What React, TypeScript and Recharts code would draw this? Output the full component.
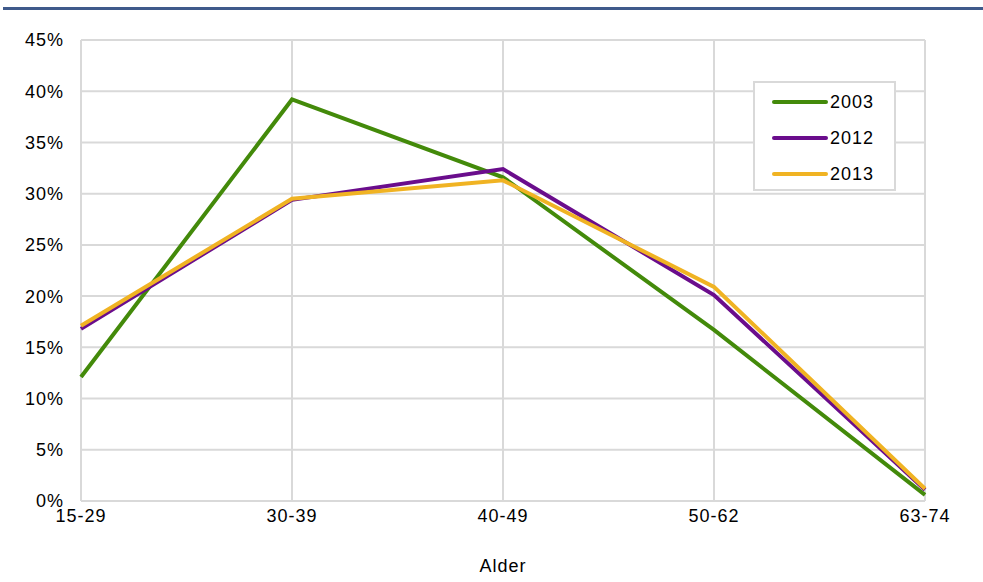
import React from 'react'
import { LineChart, Line, XAxis, YAxis, CartesianGrid } from 'recharts'

const ageGroups = ['15-29', '30-39', '40-49', '50-62', '63-74']
const share2003 = [12.1, 39.2, 31.6, 16.7, 0.6]
const share2012 = [16.8, 29.4, 32.4, 20.1, 1.1]
const share2013 = [17.1, 29.5, 31.3, 20.9, 1.2]
const yTicks = [0, 5, 10, 15, 20, 25, 30, 35, 40, 45]

const series = [
  { key: 'y2003', name: '2003', color: '#438A0A' },
  { key: 'y2012', name: '2012', color: '#6A0D8C' },
  { key: 'y2013', name: '2013', color: '#F0B323' },
]

const data = ageGroups.map((name, i) => ({
  name,
  y2003: share2003[i],
  y2012: share2012[i],
  y2013: share2013[i],
}))

const FONT = '"Liberation Sans", Arial, sans-serif'
const GRID = '#d9d9d9'
const tickStyle = { fontSize: 18, fill: '#000', fontFamily: FONT, letterSpacing: 1 }

// legend drawn as a plain overlay so it does not shrink the plot area
const LegendBox = () => (
  <div
    style={{
      position: 'absolute',
      left: 753,
      top: 81,
      width: 143,
      height: 110,
      border: `2px solid ${GRID}`,
      background: '#fff',
      boxSizing: 'border-box',
      paddingTop: 1,
      fontFamily: FONT,
      fontSize: 18,
      letterSpacing: 1,
      color: '#000',
    }}
  >
    {series.map((s) => (
      <div key={s.key} style={{ display: 'flex', alignItems: 'center', height: 36, paddingLeft: 17 }}>
        <div style={{ width: 56, height: 4, borderRadius: 2, background: s.color, marginRight: 2 }} />
        <span>{s.name}</span>
      </div>
    ))}
  </div>
)

export default function App() {
  return (
    <div style={{ position: 'absolute', left: 0, top: 0, width: 983, height: 582, background: '#fff' }}>
      <div style={{ position: 'absolute', left: 3, top: 7, width: 980, height: 3, background: '#3F5A8B' }} />
      <LineChart
        width={983}
        height={582}
        data={data}
        margin={{ top: 40, right: 58, left: 21, bottom: 6 }}
      >
        <CartesianGrid stroke={GRID} strokeWidth={2} vertical horizontal />
        <XAxis
          dataKey="name"
          axisLine={false}
          tickLine={false}
          height={75}
          interval={0}
          tick={tickStyle}
          label={{ value: 'Alder', position: 'insideBottom', offset: 4, ...tickStyle }}
        />
        <YAxis
          width={60}
          domain={[0, 45]}
          ticks={yTicks}
          axisLine={false}
          tickLine={false}
          tickMargin={11}
          interval={0}
          tickFormatter={(v) => `${v}%`}
          tick={tickStyle}
        />
        {series.map((s) => (
          <Line
            key={s.key}
            type="linear"
            dataKey={s.key}
            name={s.name}
            stroke={s.color}
            strokeWidth={4}
            dot={false}
            activeDot={false}
            isAnimationActive={false}
          />
        ))}
      </LineChart>
      <LegendBox />
    </div>
  )
}
